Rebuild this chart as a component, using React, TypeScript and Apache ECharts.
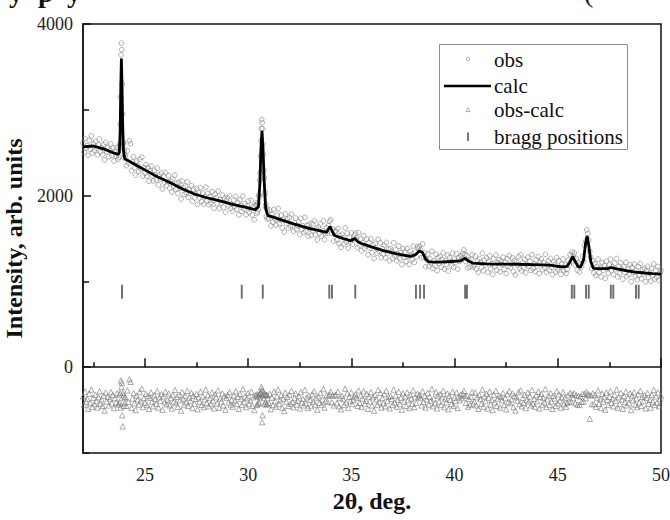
import { useEffect, useRef } from "react";
import * as echarts from "echarts";

// ---- axis ticks ----
const xMajorTicks = [25, 30, 35, 40, 45, 50];
const xMinorTicks = [22.5, 27.5, 32.5, 37.5, 42.5, 47.5];
const yMajorTicks = [0, 2000, 4000];
const yMinorTicks = [-1000, 1000, 3000];

// ---- calculated profile ----
const calcX = [22.0, 22.5, 23.0, 23.4, 23.7, 23.76, 23.8, 23.83, 23.86, 23.89, 23.92, 23.96, 24.02, 24.5, 25.08, 25.6, 26.21, 26.8, 27.43, 28.0, 28.63, 29.3, 29.9, 30.35, 30.5, 30.57, 30.62, 30.67, 30.72, 30.78, 30.85, 30.95, 31.5, 32.2, 32.9, 33.5, 33.8, 33.88, 33.97, 34.06, 34.18, 34.6, 34.95, 35.1, 35.18, 35.3, 35.45, 36.0, 36.55, 37.2, 37.84, 38.1, 38.3, 38.45, 38.6, 38.75, 39.3, 39.8, 40.3, 40.45, 40.53, 40.65, 40.9, 41.5, 42.2, 43.0, 43.8, 44.6, 45.2, 45.45, 45.6, 45.73, 45.85, 45.98, 46.1, 46.25, 46.35, 46.42, 46.5, 46.6, 46.72, 47.0, 47.4, 47.6, 47.8, 48.2, 48.66, 49.2, 49.6, 50.0];
const calcY = [2568, 2578, 2545, 2505, 2480, 2500, 2750, 3250, 3598, 3300, 2850, 2520, 2430, 2365, 2288, 2220, 2152, 2080, 2016, 1975, 1938, 1895, 1862, 1835, 1870, 2150, 2550, 2754, 2550, 2150, 1850, 1770, 1725, 1670, 1620, 1590, 1572, 1605, 1640, 1590, 1535, 1500, 1475, 1490, 1502, 1465, 1445, 1400, 1358, 1320, 1292, 1310, 1356, 1335, 1260, 1228, 1225, 1232, 1240, 1262, 1268, 1240, 1212, 1205, 1202, 1200, 1195, 1189, 1170, 1175, 1230, 1290, 1230, 1172, 1165, 1250, 1450, 1530, 1420, 1230, 1152, 1148, 1150, 1162, 1148, 1130, 1112, 1098, 1090, 1084];

// ---- bragg positions ----
const braggPositions = [23.89, 29.69, 30.71, 33.93, 34.06, 35.19, 38.13, 38.33, 38.52, 40.51, 40.6, 45.68, 45.8, 46.37, 46.5, 47.57, 47.69, 48.79, 48.92];
const braggLevel = 880;

// ---- observed / difference, by segment (start 2θ, step) ----
const segStart = [22.0, 23.74, 24.05, 30.4, 31.0, 33.85, 34.25, 40.95, 45.45, 46.8];
const segStep = [0.05, 0.02, 0.05, 0.02, 0.05, 0.05, 0.05, 0.05, 0.05, 0.05];

const obsA = [2608, 2509, 2665, 2551, 2582, 2468, 2644, 2540, 2696, 2497, 2603, 2525, 2631, 2553, 2475, 2591, 2658, 2510, 2556, 2478, 2595, 2415, 2620, 2510, 2560, 2455, 2530, 2600, 2465, 2556, 2402, 2513, 2458, 2559, 2425];
const obsB = [2450, 2560, 2600, 2830, 3150, 3640, 3776, 3700, 3300, 2950, 2620, 2610, 2440, 2530, 2480];
const obsC = [2461, 2349, 2523, 2381, 2639, 2602, 2290, 2394, 2452, 2325, 2238, 2402, 2350, 2283, 2422, 2310, 2448, 2227, 2325, 2263, 2362, 2226, 2324, 2168, 2291, 2345, 2233, 2172, 2295, 2244, 2182, 2320, 2124, 2239, 2193, 2263, 2077, 2226, 2151, 2270, 2120, 2164, 2233, 2088, 2167, 2041, 2190, 2109, 2238, 2077, 2146, 2025, 2158, 2087, 1961, 2170, 2090, 2015, 2110, 2030, 2160, 1980, 2070, 2024, 2114, 1934, 2074, 1974, 2025, 2081, 1897, 2034, 1975, 2092, 1933, 2029, 1901, 1987, 2099, 1940, 2027, 1894, 1986, 1913, 2045, 1947, 1854, 2016, 1979, 1906, 2053, 1850, 1952, 1914, 2005, 1862, 1969, 1806, 1943, 1974, 1881, 1998, 1850, 1901, 1818, 1945, 1877, 1990, 1842, 1919, 1776, 1949, 1886, 1813, 1995, 1843, 1905, 1777, 1879, 1936, 1803, 1845, 1942, 1774, 1871, 1718, 1890];
const obsD = [1890, 1790, 1920, 1810, 1905, 1840, 2010, 1990, 2180, 2260, 2460, 2640, 2780, 2884, 2850, 2780, 2600, 2480, 2300, 2210, 2010, 2040, 1870, 1900, 1760, 1850, 1730, 1820];
const obsE = [1731, 1832, 1648, 1779, 1690, 1840, 1726, 1657, 1773, 1849, 1675, 1716, 1772, 1623, 1724, 1575, 1786, 1678, 1729, 1620, 1746, 1637, 1783, 1649, 1585, 1686, 1738, 1604, 1646, 1697, 1549, 1735, 1611, 1648, 1569, 1746, 1587, 1654, 1525, 1667, 1615, 1537, 1675, 1587, 1705, 1547, 1620, 1482, 1635, 1557, 1670, 1527, 1589, 1706, 1488, 1559, 1626];
const obsF = [1560, 1650, 1700, 1720, 1560, 1610, 1470, 1580];
const obsG = [1587, 1483, 1614, 1441, 1532, 1398, 1549, 1510, 1436, 1623, 1459, 1561, 1387, 1514, 1460, 1565, 1435, 1490, 1538, 1561, 1505, 1395, 1568, 1417, 1495, 1356, 1452, 1533, 1384, 1415, 1490, 1311, 1452, 1388, 1494, 1335, 1426, 1267, 1444, 1390, 1326, 1492, 1348, 1450, 1276, 1382, 1318, 1420, 1277, 1454, 1331, 1378, 1240, 1383, 1345, 1272, 1449, 1296, 1373, 1240, 1318, 1411, 1264, 1337, 1195, 1382, 1285, 1343, 1231, 1384, 1291, 1199, 1352, 1311, 1255, 1413, 1221, 1340, 1287, 1403, 1385, 1411, 1369, 1277, 1435, 1285, 1330, 1170, 1254, 1319, 1173, 1263, 1218, 1352, 1152, 1241, 1186, 1316, 1125, 1275, 1205, 1290, 1166, 1256, 1332, 1143, 1238, 1199, 1305, 1120, 1276, 1232, 1183, 1329, 1164, 1260, 1221, 1322, 1143, 1278, 1234, 1300, 1267, 1325, 1367, 1311, 1231, 1302, 1160, 1244, 1169, 1258, 1308, 1167];
const obsH = [1191, 1296, 1145, 1240, 1104, 1263, 1218, 1162, 1327, 1126, 1246, 1190, 1275, 1105, 1229, 1299, 1149, 1204, 1083, 1263, 1173, 1308, 1132, 1217, 1252, 1112, 1237, 1197, 1281, 1141, 1221, 1091, 1266, 1176, 1301, 1161, 1205, 1275, 1115, 1245, 1075, 1230, 1190, 1289, 1149, 1308, 1123, 1217, 1162, 1257, 1101, 1196, 1281, 1176, 1235, 1130, 1310, 1150, 1205, 1114, 1249, 1178, 1288, 1092, 1227, 1262, 1136, 1216, 1160, 1315, 1105, 1194, 1239, 1129, 1267, 1166, 1079, 1228, 1196, 1109, 1278, 1136, 1240, 1163, 1081, 1200, 1261, 1122, 1193, 1094];
const obsI = [1140, 1250, 1190, 1310, 1235, 1340, 1300, 1330, 1190, 1265, 1130, 1215, 1110, 1205, 1170, 1290, 1230, 1420, 1470, 1600, 1560, 1480, 1350, 1280, 1150, 1240, 1100];
const obsJ = [1206, 1070, 1174, 1259, 1103, 1158, 1053, 1219, 1129, 1189, 1035, 1235, 1150, 1093, 1191, 1259, 1127, 1173, 1080, 1211, 1138, 1266, 1054, 1171, 1089, 1217, 1139, 1027, 1175, 1103, 1221, 1059, 1142, 1081, 1194, 997, 1165, 1108, 1201, 1055, 1124, 1022, 1171, 1075, 1208, 1032, 1136, 1084, 1153, 997, 1121, 1175, 1049, 1093, 1002, 1151, 1070, 1204, 1029, 1128, 1052, 1171, 1011, 1095, 1129];

const diffA = [-340, -440, -285, -400, -370, -485, -310, -415, -260, -460, -355, -430, -320, -395, -470, -350, -280, -425, -375, -450, -330, -505, -295, -400, -345, -445, -365, -290, -420, -325, -475, -360, -410, -305, -435];
const diffB = [-422, -320, -405, -300, -470, -155, -230, -180, -560, -690, -300, -330, -450, -360, -420];
const diffC = [-345, -450, -270, -405, -140, -170, -475, -365, -300, -420, -500, -330, -375, -435, -290, -395, -250, -465, -360, -415, -310, -440, -335, -485, -355, -295, -400, -455, -325, -370, -425, -280, -470, -350, -390, -315, -495, -340, -410, -285, -430, -380, -305, -445, -360, -480, -325, -400, -265, -420, -345, -460, -320, -385, -505, -290, -365, -435, -335, -410, -275, -450, -355, -395, -300, -475, -330, -425, -370, -310, -490, -350, -405, -285, -440, -340, -465, -375, -260, -415, -325, -455, -360, -430, -295, -390, -480, -315, -350, -420, -270, -470, -365, -400, -305, -445, -335, -495, -355, -320, -410, -290, -435, -380, -460, -330, -395, -280, -425, -345, -485, -310, -370, -440, -255, -405, -340, -465, -360, -300, -430, -385, -285, -450, -350, -500, -325];
const diffD = [-335, -440, -315, -430, -340, -410, -320, -420, -310, -350, -300, -290, -230, -260, -640, -560, -330, -280, -360, -310, -430, -320, -405, -318, -434, -320, -428, -331];
const diffE = [-415, -310, -490, -355, -440, -285, -395, -460, -340, -260, -430, -385, -325, -470, -365, -510, -295, -400, -345, -450, -320, -425, -275, -405, -465, -360, -305, -435, -390, -335, -480, -290, -410, -370, -445, -265, -420, -350, -475, -330, -380, -455, -315, -400, -280, -435, -360, -495, -340, -415, -300, -440, -375, -255, -470, -395, -325];
const diffF = [-405, -330, -315, -285, -410, -330, -445, -330];
const diffG = [-320, -420, -285, -455, -360, -490, -335, -370, -440, -250, -410, -305, -475, -345, -395, -295, -430, -380, -340, -315, -355, -450, -270, -415, -330, -465, -365, -280, -425, -390, -310, -485, -340, -400, -290, -445, -350, -505, -325, -375, -435, -265, -405, -300, -470, -360, -420, -315, -455, -275, -395, -345, -480, -335, -370, -440, -260, -410, -330, -460, -380, -285, -430, -355, -495, -305, -400, -340, -450, -295, -385, -475, -320, -365, -425, -270, -465, -350, -415, -310, -340, -325, -360, -445, -280, -405, -335, -470, -375, -300, -435, -345, -390, -255, -455, -365, -420, -290, -480, -330, -400, -315, -440, -350, -275, -465, -370, -410, -305, -490, -335, -380, -430, -285, -450, -355, -395, -295, -475, -340, -385, -320, -360, -310, -275, -335, -415, -330, -460, -370, -440, -345, -290, -425];
const diffH = [-400, -295, -445, -350, -485, -325, -370, -425, -260, -460, -340, -395, -310, -480, -355, -285, -435, -380, -500, -320, -410, -275, -450, -365, -330, -470, -345, -385, -300, -440, -360, -490, -315, -405, -280, -420, -375, -305, -465, -335, -505, -350, -390, -290, -430, -270, -455, -360, -415, -320, -475, -380, -295, -400, -340, -445, -265, -425, -370, -460, -325, -395, -285, -480, -345, -310, -435, -355, -410, -255, -465, -375, -330, -440, -300, -400, -485, -335, -365, -450, -280, -420, -315, -390, -470, -350, -290, -430, -360, -460];
const diffI = [-415, -325, -400, -300, -400, -315, -360, -305, -420, -325, -435, -335, -440, -340, -405, -310, -400, -310, -360, -290, -315, -320, -600, -330, -430, -305, -430];
const diffJ = [-325, -460, -355, -270, -425, -370, -475, -310, -400, -340, -495, -295, -380, -440, -345, -280, -415, -365, -455, -320, -390, -260, -470, -350, -430, -300, -375, -485, -335, -405, -285, -445, -360, -420, -305, -500, -330, -385, -290, -435, -365, -465, -315, -410, -275, -450, -345, -395, -325, -480, -355, -300, -425, -380, -470, -320, -400, -265, -440, -340, -415, -295, -455, -370, -335];

const obsSegs = [obsA, obsB, obsC, obsD, obsE, obsF, obsG, obsH, obsI, obsJ];
const diffSegs = [diffA, diffB, diffC, diffD, diffE, diffF, diffG, diffH, diffI, diffJ];

function pairSegments(segs: number[][]): number[][] {
  const out: number[][] = [];
  segs.forEach((vals, k) => {
    vals.forEach((v, i) => {
      out.push([+(segStart[k] + i * segStep[k]).toFixed(2), v]);
    });
  });
  return out;
}

const SERIF = "Liberation Serif";

export default function App() {
  const ref = useRef<HTMLDivElement>(null);
  useEffect(() => {
    if (!ref.current) return;
    const chart = echarts.init(ref.current, undefined, { renderer: "svg" });
    const obsData = pairSegments(obsSegs);
    const diffData = pairSegments(diffSegs);
    const calcData = calcX.map((x, i) => [x, calcY[i]]);
    const braggData = braggPositions.map((x) => [x, braggLevel]);

    const legendX = 468;
    const textX = 494;
    const legendText = (text: string, y: number) => ({
      type: "text",
      z: 21,
      x: textX,
      y,
      style: { text, fontFamily: SERIF, fontSize: 21, fill: "#111", verticalAlign: "middle" },
    });
    const fragment = (text: string, x: number, bold: boolean) => ({
      type: "text",
      z: 10,
      x,
      y: -8,
      style: { text, fontFamily: SERIF, fontSize: 28, fontWeight: bold ? "bold" : "normal", fill: "#111", verticalAlign: "middle" },
    });

    chart.setOption({
      animation: false,
      backgroundColor: "#fff",
      grid: {
        left: 83,
        right: 9,
        top: 24,
        bottom: 67,
        containLabel: false,
        outerBoundsMode: "none",
        show: true,
        borderColor: "#111",
        borderWidth: 1.5,
        backgroundColor: "transparent",
      },
      xAxis: [
        {
          type: "value",
          min: 22,
          max: 50,
          position: "bottom",
          name: "2θ, deg.",
          nameLocation: "middle",
          nameGap: 36,
          nameTextStyle: { fontFamily: SERIF, fontWeight: "bold", fontSize: 24, color: "#111" },
          axisLine: { show: true, lineStyle: { color: "#111", width: 1.5 } },
          axisTick: { show: true, inside: true, length: 9, customValues: xMajorTicks, lineStyle: { color: "#111", width: 1.5 } },
          axisLabel: { show: true, customValues: xMajorTicks, fontFamily: SERIF, fontSize: 18, color: "#222", margin: 13, formatter: (v: number) => String(v) },
          splitLine: { show: false },
        },
        {
          type: "value",
          min: 22,
          max: 50,
          position: "bottom",
          axisLine: { show: false },
          axisTick: { show: true, inside: true, length: 5, customValues: xMinorTicks, lineStyle: { color: "#111", width: 1.5 } },
          axisLabel: { show: false },
          splitLine: { show: false },
        },
      ],
      yAxis: [
        {
          type: "value",
          min: -1000,
          max: 4000,
          position: "left",
          name: "Intensity, arb. units",
          nameLocation: "middle",
          nameGap: 47,
          nameTextStyle: { fontFamily: SERIF, fontWeight: "bold", fontSize: 24, color: "#111" },
          axisLine: { show: true, lineStyle: { color: "#111", width: 1.5 } },
          axisTick: { show: true, inside: true, length: 8, customValues: yMajorTicks, lineStyle: { color: "#111", width: 1.5 } },
          axisLabel: { show: true, customValues: yMajorTicks, fontFamily: SERIF, fontSize: 18, color: "#222", margin: 10, formatter: (v: number) => String(v) },
          splitLine: { show: false },
        },
        {
          type: "value",
          min: -1000,
          max: 4000,
          position: "left",
          axisLine: { show: false },
          axisTick: { show: true, inside: true, length: 6, customValues: yMinorTicks, lineStyle: { color: "#111", width: 1.5 } },
          axisLabel: { show: false },
          splitLine: { show: false },
        },
      ],
      series: [
        {
          name: "obs",
          type: "scatter",
          data: obsData,
          symbol: "circle",
          symbolSize: 4.8,
          itemStyle: { color: "rgba(0,0,0,0)", borderColor: "#858585", borderWidth: 0.8 },
          z: 2,
          silent: true,
        },
        {
          name: "obs-calc",
          type: "scatter",
          data: diffData,
          symbol: "triangle",
          symbolSize: 5.4,
          itemStyle: { color: "rgba(0,0,0,0)", borderColor: "#7a7a7a", borderWidth: 0.8 },
          z: 2,
          silent: true,
        },
        {
          name: "calc",
          type: "line",
          data: calcData,
          showSymbol: false,
          symbol: "none",
          lineStyle: { color: "#000", width: 2.8 },
          z: 3,
          silent: true,
        },
        {
          name: "bragg positions",
          type: "scatter",
          data: braggData,
          symbol: "rect",
          symbolSize: [1.9, 14],
          itemStyle: { color: "#4a4a4a" },
          z: 3,
          silent: true,
        },
      ],
      graphic: [
        fragment("y", 9, true),
        fragment("p", 38, true),
        fragment("y", 67, true),
        fragment("(", 584, false),
        {
          type: "rect",
          z: 20,
          shape: { x: 439.5, y: 44.5, width: 188, height: 105 },
          style: { fill: "#fff", stroke: "#8c8c8c", lineWidth: 1 },
        },
        { type: "circle", z: 21, shape: { cx: legendX, cy: 59, r: 1.8 }, style: { fill: "none", stroke: "#999", lineWidth: 0.8 } },
        { type: "line", z: 21, shape: { x1: 444, y1: 86, x2: 491, y2: 86 }, style: { stroke: "#000", lineWidth: 2.5 } },
        {
          type: "polygon",
          z: 21,
          shape: { points: [[legendX, 107.8], [legendX - 2.2, 111.6], [legendX + 2.2, 111.6]] },
          style: { fill: "none", stroke: "#999", lineWidth: 0.8 },
        },
        { type: "line", z: 21, shape: { x1: legendX, y1: 132.5, x2: legendX, y2: 141 }, style: { stroke: "#555", lineWidth: 1.6 } },
        legendText("obs", 60),
        legendText("calc", 85.5),
        legendText("obs-calc", 110),
        legendText("bragg positions", 136.5),
      ],
    });
    return () => chart.dispose();
  }, []);
  return <div ref={ref} style={{ position: "absolute", left: 0, top: 0, width: 670, height: 520 }} />;
}
